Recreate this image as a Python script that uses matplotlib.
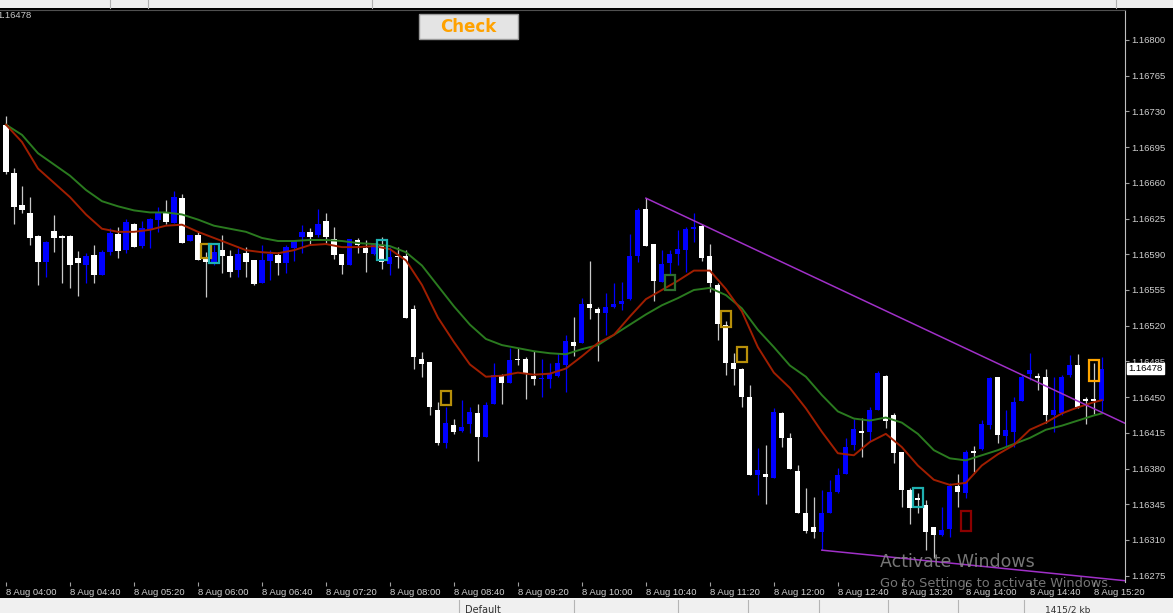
import numpy as np
import matplotlib
matplotlib.use("Agg")
import matplotlib.pyplot as plt
from matplotlib.patches import Rectangle
import matplotlib.transforms as mtransforms

# EURUSD M5, 8 Aug 04:00 - 15:20, values in points above 1.16000
opens = [717, 670, 638, 630, 608, 582, 613, 608, 608, 586, 579, 589, 570, 592, 610, 594, 620, 598, 614, 624,
         630, 621, 645, 603, 609, 585, 581, 594, 588, 575, 591, 584, 562, 583, 589, 581, 596, 607, 612, 609,
         623, 605, 590, 579, 604, 596, 590, 599, 580, 588, 588, 536, 487, 484, 437, 405, 423, 417, 424, 434,
         411, 443, 471, 464, 487, 487, 471, 468, 468, 471, 481, 504, 503, 541, 536, 532, 538, 541, 546, 588,
         634, 600, 563, 581, 590, 594, 615, 618, 588, 560, 521, 483, 478, 450, 374, 375, 371, 434, 410, 378,
         336, 323, 318, 336, 357, 375, 403, 417, 416, 437, 471, 432, 396, 359, 351, 344, 323, 315, 321, 363,
         356, 397, 399, 423, 470, 412, 416, 446, 473, 471, 470, 432, 434, 472, 481, 448, 448, 446]
highs = [726, 675, 657, 646, 609, 603, 628, 609, 609, 593, 591, 599, 594, 616, 617, 625, 621, 623, 626, 636,
         643, 652, 649, 609, 612, 592, 599, 609, 594, 596, 597, 584, 599, 594, 592, 599, 604, 619, 616, 634,
         630, 617, 590, 605, 606, 604, 601, 607, 597, 597, 594, 540, 494, 484, 445, 440, 429, 447, 440, 443,
         445, 483, 473, 498, 498, 489, 495, 487, 483, 493, 511, 529, 547, 583, 538, 552, 562, 563, 610, 635,
         645, 600, 594, 594, 614, 617, 630, 620, 600, 562, 525, 493, 479, 462, 400, 403, 439, 435, 415, 383,
         361, 352, 359, 369, 381, 410, 429, 430, 440, 476, 472, 434, 396, 361, 356, 349, 323, 342, 366, 375,
         398, 402, 428, 470, 470, 437, 450, 472, 493, 474, 478, 470, 472, 491, 492, 450, 483, 489]
lows = [669, 620, 630, 599, 560, 568, 592, 562, 557, 549, 562, 562, 570, 589, 586, 591, 597, 596, 596, 612,
        620, 621, 601, 603, 584, 548, 579, 572, 568, 568, 568, 560, 562, 565, 570, 572, 583, 591, 599, 607,
        601, 585, 571, 579, 591, 573, 589, 576, 570, 577, 528, 478, 470, 432, 403, 400, 414, 416, 415, 387,
        411, 443, 443, 464, 481, 448, 462, 450, 459, 470, 455, 490, 503, 527, 485, 511, 537, 535, 545, 582,
        598, 544, 563, 570, 579, 573, 602, 583, 553, 506, 472, 462, 440, 374, 354, 345, 371, 401, 380, 336,
        317, 312, 300, 336, 356, 375, 398, 391, 407, 437, 420, 385, 342, 326, 336, 300, 292, 314, 313, 342,
        351, 377, 398, 419, 405, 402, 401, 446, 467, 457, 425, 416, 432, 470, 439, 424, 433, 436]
closes = [671, 636, 633, 606, 582, 602, 606, 606, 579, 581, 588, 570, 592, 611, 593, 622, 597, 616, 625, 630,
          622, 646, 601, 609, 584, 582, 592, 588, 573, 590, 582, 561, 584, 590, 581, 597, 603, 612, 607, 620,
          607, 589, 579, 605, 599, 591, 601, 582, 587, 587, 528, 489, 482, 440, 405, 425, 416, 421, 435, 411,
          442, 472, 464, 486, 486, 474, 468, 469, 474, 483, 505, 500, 541, 537, 532, 538, 541, 544, 588, 633,
          598, 564, 580, 590, 595, 615, 617, 586, 562, 522, 483, 478, 450, 374, 379, 372, 435, 410, 380, 336,
          319, 318, 336, 357, 374, 401, 419, 415, 437, 474, 427, 395, 359, 341, 349, 318, 315, 320, 363, 357,
          396, 395, 424, 469, 413, 418, 445, 470, 477, 469, 432, 437, 470, 481, 440, 446, 446, 478]

time_labels = ["8 Aug 04:00", "8 Aug 04:40", "8 Aug 05:20", "8 Aug 06:00", "8 Aug 06:40", "8 Aug 07:20",
               "8 Aug 08:00", "8 Aug 08:40", "8 Aug 09:20", "8 Aug 10:00", "8 Aug 10:40", "8 Aug 11:20",
               "8 Aug 12:00", "8 Aug 12:40", "8 Aug 13:20", "8 Aug 14:00", "8 Aug 14:40", "8 Aug 15:20"]
label_bars = [0, 8, 16, 24, 32, 40, 48, 56, 64, 72, 80, 88, 96, 104, 112, 120, 128, 136]

price_ticks = [1.16275, 1.16310, 1.16345, 1.16380, 1.16415, 1.16450, 1.16485, 1.16520,
               1.16555, 1.16590, 1.16625, 1.16660, 1.16695, 1.16730, 1.16765, 1.16800]
current_price = 1.16478

# moving averages every 2 bars
ma_bars = list(range(0, 137, 2)) + [137]
ma_fast = [717, 700, 674, 660, 646, 629, 615, 612, 612, 614, 618, 619, 612, 606, 600, 594, 592, 591, 594, 599,
           600, 597, 597, 598, 595, 584, 560, 528, 504, 482, 470, 471, 474, 472, 473, 478, 490, 503, 511, 529,
           546, 555, 564, 574, 574, 556, 534, 499, 474, 459, 439, 416, 395, 393, 406, 414, 401, 383, 369, 364,
           366, 383, 394, 403, 418, 425, 434, 440, 445, 447]
ma_slow = [717, 707, 689, 678, 667, 653, 642, 637, 633, 631, 631, 629, 624, 618, 615, 612, 606, 603, 603, 604,
           604, 603, 601, 600, 598, 592, 579, 559, 539, 521, 507, 501, 498, 495, 493, 492, 497, 501, 511, 521,
           531, 540, 547, 555, 557, 550, 537, 516, 499, 481, 470, 452, 436, 429, 427, 430, 425, 414, 398, 390,
           388, 393, 398, 404, 410, 418, 422, 427, 432, 434]

# signal boxes
box_bars = [25, 26, 47, 55, 83, 90, 92, 114, 120, 136]
box_top = [600, 600, 604, 456, 570, 534, 499, 361, 338, 486]
box_bottom = [586, 581, 584, 442, 555, 519, 484, 342, 319, 466]
box_colors = ["#b8900a", "#1fb0b0", "#1fb0b0", "#b8900a", "#2f6f2f", "#b8900a", "#b8900a",
              "#1fb0b0", "#8b0000", "#ffa500"]

# trend lines (bar, points)
upper_bars, upper_vals = [80, 140], [645, 424]
lower_bars, lower_vals = [102, 140], [300, 270]


def px(v):
    return 1.16 + np.asarray(v, dtype=float) / 1e5


W, H = 1173, 613
fig = plt.figure(figsize=(W / 100, H / 100), dpi=100, facecolor="black")
ax = fig.add_axes([0, 1 - 582 / H, 1125 / W, 572 / H], facecolor="black")

o, h, l, c = px(opens), px(highs), px(lows), px(closes)
idx = np.arange(len(o))
up = c >= o
body_col = np.where(up, "#0000ff", "#ffffff")
wick_col = np.where(up, "#0000ff", "#c8c8c8")

ax.vlines(idx, l, h, colors=wick_col, linewidth=0.9, zorder=2)
body_h = np.maximum(np.abs(c - o), 0.000012)
ax.bar(idx, body_h, bottom=np.minimum(o, c), width=0.64, color=body_col, linewidth=0, zorder=3)

ax.plot(ma_bars, px(ma_slow), color="#2a7a1f", lw=1.4, zorder=4)
ax.plot(ma_bars, px(ma_fast), color="#a01e00", lw=1.4, zorder=5)

for b, t, bt, col in zip(box_bars, box_top, box_bottom, box_colors):
    ax.add_patch(Rectangle((b - 0.6, px(bt)), 1.2, px(t) - px(bt), fill=False,
                           edgecolor=col, lw=1.6, zorder=6))

ax.plot(upper_bars, px(upper_vals), color="#a030c8", lw=1.1, zorder=6)
ax.plot(lower_bars, px(lower_vals), color="#a030c8", lw=1.1, zorder=6)

ax.set_xlim(-0.75, 139.9)
ax.set_ylim(1.162688, 1.168294)

ax.yaxis.tick_right()
ax.set_yticks(price_ticks)
ax.set_yticklabels([f"{p:.5f}" for p in price_ticks])
ax.set_xticks(label_bars)
ax.set_xticklabels(time_labels)
for lab in ax.get_xticklabels():
    lab.set_horizontalalignment("left")
ax.tick_params(axis="both", colors="#a0a0a0", labelcolor="#d0d0d0", length=3, width=0.8,
               labelsize=6.8, pad=1.5)
for lab in ax.get_xticklabels() + ax.get_yticklabels():
    lab.set_fontfamily("Liberation Sans")

for s in ["left", "bottom"]:
    ax.spines[s].set_visible(False)
ax.spines["right"].set_color("#c0c0c0")
ax.spines["top"].set_color("#505050")

# current price tag (sits over the 1.16485 label, as in the terminal)
trans = mtransforms.blended_transform_factory(ax.transAxes, ax.transData)
ax.text(1.003, current_price, f"{current_price:.5f}", transform=trans, va="center", ha="left",
        fontsize=6.8, family="Liberation Sans", color="black", clip_on=False, zorder=10,
        bbox=dict(boxstyle="square,pad=0.15", fc="white", ec="white"))
fig.text(-0.002, 1 - 16 / H, f"{current_price:.5f}", fontsize=6.8, family="Liberation Sans",
         color="#c8c8c8", va="center", ha="left")

# Check button
fig.patches.append(Rectangle((419 / W, 1 - 39 / H), 99 / W, 25 / H, transform=fig.transFigure,
                             fc="#e4e4e4", ec="#9a9a9a", lw=1, zorder=5))
fig.text(468.5 / W, 1 - 27 / H, "Check", fontsize=12, fontweight="bold", color="#ffa200",
         ha="center", va="center", zorder=6)

# window chrome
fig.patches.append(Rectangle((0, 1 - 8 / H), 1, 8 / H, transform=fig.transFigure,
                             fc="#eeeeee", ec="none", zorder=1))
for xs in [110, 148, 372, 1116]:
    fig.lines.append(plt.Line2D([xs / W, xs / W], [1 - 8 / H, 1], transform=fig.transFigure,
                                color="#b0b0b0", lw=0.8))
fig.patches.append(Rectangle((0, 0), 1, 15 / H, transform=fig.transFigure,
                             fc="#f0f0f0", ec="none", zorder=1))
for xs in [459, 574, 678, 748, 819, 888, 958, 1024]:
    fig.lines.append(plt.Line2D([xs / W, xs / W], [0, 13 / H], transform=fig.transFigure,
                                color="#b4b4b4", lw=0.8))
fig.text(465 / W, 3 / H, "Default", fontsize=7, color="#303030", ha="left", va="center")
fig.text(1045 / W, 3 / H, "1415/2 kb", fontsize=6.5, color="#303030", ha="left", va="center")

# activation watermark
fig.text(880 / W, 1 - 562 / H, "Activate Windows", fontsize=12.5, color="#8a8a8a",
         ha="left", va="center", alpha=0.85)
fig.text(880 / W, 1 - 584 / H, "Go to Settings to activate Windows.", fontsize=9.3,
         color="#8a8a8a", ha="left", va="center", alpha=0.85)

fig.savefig("out.png", dpi=100, facecolor=fig.get_facecolor())
